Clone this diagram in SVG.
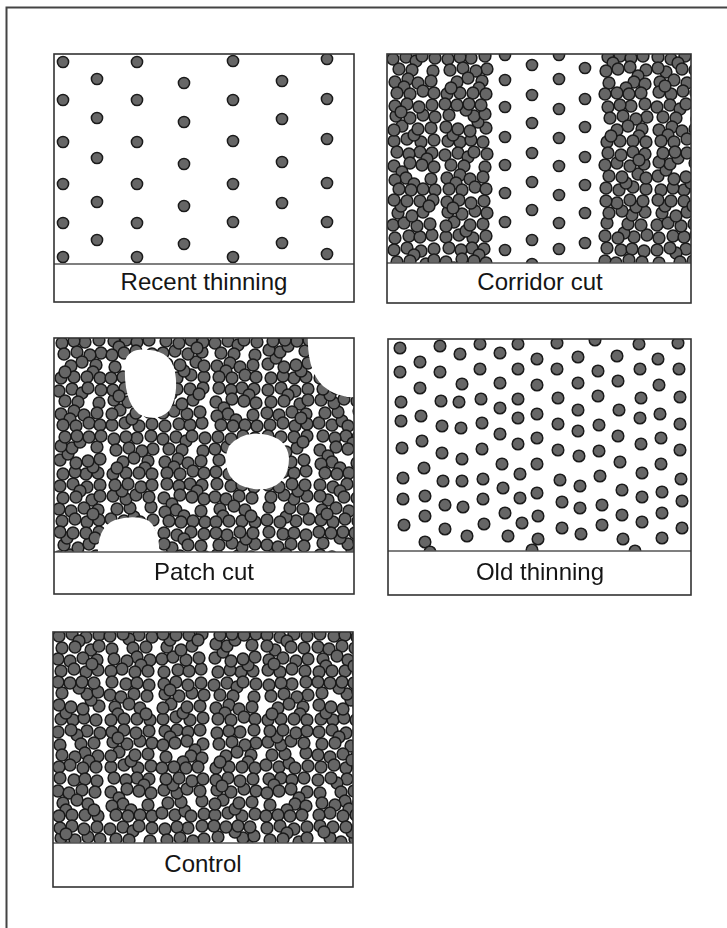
<svg xmlns="http://www.w3.org/2000/svg" xmlns:xlink="http://www.w3.org/1999/xlink" width="727" height="928" viewBox="0 0 727 928">
<style>
.frame{fill:none;stroke:#444;stroke-width:2}
.panel{fill:none;stroke:#333;stroke-width:1.6}
.div{stroke:#555;stroke-width:1.3}
.dots{fill:#666;stroke:#1a1a1a;stroke-width:1.5}
.lbl{font-family:"Liberation Sans",Arial,sans-serif;font-size:24px;fill:#151515;text-anchor:middle}
</style>
<defs>
<g id="A"><circle cx="6" cy="7" r="5.9"/><circle cx="19" cy="5" r="5.9"/><circle cx="33" cy="8" r="5.9"/><circle cx="46" cy="6" r="5.9"/><circle cx="26" cy="12" r="5.9"/><circle cx="9" cy="19" r="5.9"/><circle cx="22" cy="18" r="5.9"/><circle cx="38" cy="21" r="5.9"/><circle cx="46" cy="17" r="5.9"/><circle cx="5" cy="30" r="5.9"/><circle cx="17" cy="32" r="5.9"/><circle cx="30" cy="29" r="5.9"/><circle cx="44" cy="31" r="5.9"/><circle cx="8" cy="42" r="5.9"/><circle cx="21" cy="40" r="5.9"/><circle cx="33" cy="43" r="5.9"/><circle cx="45" cy="41" r="5.9"/><circle cx="39" cy="35" r="5.9"/></g>
<g id="B"><circle cx="7" cy="5" r="5.9"/><circle cx="21" cy="7" r="5.9"/><circle cx="32" cy="6" r="5.9"/><circle cx="44" cy="8" r="5.9"/><circle cx="5" cy="18" r="5.9"/><circle cx="16" cy="20" r="5.9"/><circle cx="29" cy="17" r="5.9"/><circle cx="42" cy="19" r="5.9"/><circle cx="24" cy="27" r="5.9"/><circle cx="10" cy="30" r="5.9"/><circle cx="35" cy="31" r="5.9"/><circle cx="13" cy="37" r="5.9"/><circle cx="6" cy="43" r="5.9"/><circle cx="19" cy="42" r="5.9"/><circle cx="32" cy="42" r="5.9"/><circle cx="45" cy="43" r="5.9"/><circle cx="41" cy="37" r="5.9"/></g>
<g id="C"><circle cx="5" cy="8" r="5.9"/><circle cx="18" cy="6" r="5.9"/><circle cx="28" cy="10" r="5.9"/><circle cx="34" cy="5" r="5.9"/><circle cx="47" cy="7" r="5.9"/><circle cx="11" cy="18" r="5.9"/><circle cx="24" cy="19" r="5.9"/><circle cx="45" cy="20" r="5.9"/><circle cx="7" cy="31" r="5.9"/><circle cx="20" cy="28" r="5.9"/><circle cx="30" cy="32" r="5.9"/><circle cx="43" cy="30" r="5.9"/><circle cx="16" cy="36" r="5.9"/><circle cx="9" cy="42" r="5.9"/><circle cx="22" cy="43" r="5.9"/><circle cx="35" cy="40" r="5.9"/><circle cx="46" cy="42" r="5.9"/></g>
<g id="D"><circle cx="8" cy="6" r="5.9"/><circle cx="20" cy="5" r="5.9"/><circle cx="31" cy="7" r="5.9"/><circle cx="43" cy="5" r="5.9"/><circle cx="13" cy="12" r="5.9"/><circle cx="6" cy="20" r="5.9"/><circle cx="18" cy="18" r="5.9"/><circle cx="30" cy="16" r="5.9"/><circle cx="46" cy="19" r="5.9"/><circle cx="38" cy="25" r="5.9"/><circle cx="9" cy="32" r="5.9"/><circle cx="34" cy="31" r="5.9"/><circle cx="45" cy="33" r="5.9"/><circle cx="26" cy="37" r="5.9"/><circle cx="5" cy="43" r="5.9"/><circle cx="17" cy="42" r="5.9"/><circle cx="29" cy="43" r="5.9"/><circle cx="41" cy="42" r="5.9"/></g>
<use id="Ah" href="#A" transform="matrix(-1 0 0 1 52 0)"/><use id="Av" href="#A" transform="matrix(1 0 0 -1 0 48)"/><use id="Ar" href="#A" transform="matrix(-1 0 0 -1 52 48)"/>
<use id="Bh" href="#B" transform="matrix(-1 0 0 1 52 0)"/><use id="Bv" href="#B" transform="matrix(1 0 0 -1 0 48)"/><use id="Br" href="#B" transform="matrix(-1 0 0 -1 52 48)"/>
<use id="Ch" href="#C" transform="matrix(-1 0 0 1 52 0)"/><use id="Cv" href="#C" transform="matrix(1 0 0 -1 0 48)"/><use id="Cr" href="#C" transform="matrix(-1 0 0 -1 52 48)"/>
<use id="Dh" href="#D" transform="matrix(-1 0 0 1 52 0)"/><use id="Dv" href="#D" transform="matrix(1 0 0 -1 0 48)"/><use id="Dr" href="#D" transform="matrix(-1 0 0 -1 52 48)"/>
<clipPath id="cp1"><rect x="54" y="54" width="300" height="210"/></clipPath>
<clipPath id="cp2"><rect x="387" y="54" width="304" height="209"/></clipPath>
<clipPath id="cp3"><rect x="54" y="338" width="300" height="214"/></clipPath>
<clipPath id="cp4"><rect x="388" y="339" width="303" height="212"/></clipPath>
<clipPath id="cp5"><rect x="53" y="632" width="300" height="211"/></clipPath>
<mask id="holes" maskUnits="userSpaceOnUse" x="0" y="0" width="727" height="928">
<rect x="0" y="0" width="727" height="928" fill="#fff"/>
<path fill="#000" d="M125 362Q128 347 150 350Q171 352 175 372Q179 395 169 411Q156 423 139 414Q123 401 125 362Z"/>
<path fill="#000" d="M308 330L360 330L360 397Q338 399 323 386Q306 370 308 330Z"/>
<path fill="#000" d="M229 446Q241 432 262 434Q287 437 289 458Q289 484 266 489Q240 491 230 476Q222 461 229 446Z"/>
<path fill="#000" d="M98 560Q96 527 115 520Q135 514 149 521Q161 531 159 560Z"/>
</mask>
</defs>
<rect x="0" y="0" width="727" height="928" fill="#fff"/>
<path class="frame" d="M6.5 928V7.5H727"/>

<g id="recent-thinning">
<g class="dots" clip-path="url(#cp1)">
<circle cx="63" cy="62" r="5.6"/><circle cx="63" cy="100" r="5.6"/><circle cx="63" cy="142" r="5.6"/><circle cx="63" cy="184" r="5.6"/><circle cx="63" cy="223" r="5.6"/><circle cx="63" cy="257" r="5.6"/>
<circle cx="97" cy="79" r="5.6"/><circle cx="97" cy="118" r="5.6"/><circle cx="97" cy="158" r="5.6"/><circle cx="97" cy="202" r="5.6"/><circle cx="97" cy="240" r="5.6"/>
<circle cx="137" cy="62" r="5.6"/><circle cx="137" cy="100" r="5.6"/><circle cx="137" cy="142" r="5.6"/><circle cx="137" cy="184" r="5.6"/><circle cx="137" cy="223" r="5.6"/><circle cx="137" cy="257" r="5.6"/>
<circle cx="184" cy="83" r="5.6"/><circle cx="184" cy="122" r="5.6"/><circle cx="184" cy="164" r="5.6"/><circle cx="184" cy="206" r="5.6"/><circle cx="184" cy="244" r="5.6"/>
<circle cx="233" cy="61" r="5.6"/><circle cx="233" cy="100" r="5.6"/><circle cx="233" cy="141" r="5.6"/><circle cx="233" cy="184" r="5.6"/><circle cx="233" cy="222" r="5.6"/><circle cx="233" cy="257" r="5.6"/>
<circle cx="282" cy="81" r="5.6"/><circle cx="282" cy="119" r="5.6"/><circle cx="282" cy="162" r="5.6"/><circle cx="282" cy="203" r="5.6"/><circle cx="282" cy="243" r="5.6"/>
<circle cx="327" cy="59" r="5.6"/><circle cx="327" cy="99" r="5.6"/><circle cx="327" cy="139" r="5.6"/><circle cx="327" cy="183" r="5.6"/><circle cx="327" cy="222" r="5.6"/><circle cx="327" cy="254" r="5.6"/>
</g>
<line class="div" x1="54" y1="264" x2="354" y2="264"/>
<rect class="panel" x="54" y="54" width="300" height="248"/>
<text class="lbl" x="204" y="290">Recent thinning</text>
</g>

<g id="corridor-cut">
<g class="dots" clip-path="url(#cp2)">
<use href="#C" x="388" y="51"/><use href="#Ar" x="388" y="99"/><use href="#Dh" x="388" y="147"/><use href="#Bv" x="388" y="195"/><use href="#A" x="388" y="243"/>
<use href="#Bh" x="440" y="51"/><use href="#Dv" x="440" y="99"/><use href="#C" x="440" y="147"/><use href="#Ar" x="440" y="195"/><use href="#Dh" x="440" y="243"/>
<use href="#D" x="600" y="51"/><use href="#Bh" x="600" y="99"/><use href="#Av" x="600" y="147"/><use href="#Cr" x="600" y="195"/><use href="#B" x="600" y="243"/>
<use href="#Ah" x="652" y="51"/><use href="#C" x="652" y="99"/><use href="#Dr" x="652" y="147"/><use href="#Bv" x="652" y="195"/><use href="#Ch" x="652" y="243"/>
<circle cx="505" cy="55" r="5.6"/><circle cx="505" cy="80" r="5.6"/><circle cx="505" cy="107" r="5.6"/><circle cx="505" cy="137" r="5.6"/><circle cx="505" cy="165" r="5.6"/><circle cx="505" cy="193" r="5.6"/><circle cx="505" cy="222" r="5.6"/><circle cx="505" cy="250" r="5.6"/>
<circle cx="532" cy="65" r="5.6"/><circle cx="532" cy="95" r="5.6"/><circle cx="532" cy="123" r="5.6"/><circle cx="532" cy="153" r="5.6"/><circle cx="532" cy="182" r="5.6"/><circle cx="532" cy="210" r="5.6"/><circle cx="532" cy="240" r="5.6"/><circle cx="532" cy="264" r="5.6"/>
<circle cx="559" cy="55" r="5.6"/><circle cx="559" cy="79" r="5.6"/><circle cx="559" cy="109" r="5.6"/><circle cx="559" cy="138" r="5.6"/><circle cx="559" cy="166" r="5.6"/><circle cx="559" cy="195" r="5.6"/><circle cx="559" cy="223" r="5.6"/><circle cx="559" cy="249" r="5.6"/>
<circle cx="585" cy="68" r="5.6"/><circle cx="585" cy="99" r="5.6"/><circle cx="585" cy="127" r="5.6"/><circle cx="585" cy="157" r="5.6"/><circle cx="585" cy="185" r="5.6"/><circle cx="585" cy="213" r="5.6"/><circle cx="585" cy="243" r="5.6"/>
</g>
<line class="div" x1="387" y1="263" x2="691" y2="263"/>
<rect class="panel" x="387" y="54" width="304" height="249"/>
<text class="lbl" x="540" y="290">Corridor cut</text>
</g>

<g id="patch-cut">
<g clip-path="url(#cp3)">
<g class="dots" mask="url(#holes)">
<use href="#Bh" x="54" y="335"/><use href="#D" x="106" y="335"/><use href="#Av" x="158" y="335"/><use href="#C" x="210" y="335"/><use href="#Dr" x="262" y="335"/><use href="#B" x="314" y="335"/>
<use href="#C" x="54" y="383"/><use href="#Ar" x="106" y="383"/><use href="#Bv" x="158" y="383"/><use href="#Dh" x="210" y="383"/><use href="#A" x="262" y="383"/><use href="#Cv" x="314" y="383"/>
<use href="#Dr" x="54" y="431"/><use href="#Bh" x="106" y="431"/><use href="#C" x="158" y="431"/><use href="#Av" x="210" y="431"/><use href="#Bv" x="262" y="431"/><use href="#Dh" x="314" y="431"/>
<use href="#A" x="54" y="479"/><use href="#Cv" x="106" y="479"/><use href="#Dh" x="158" y="479"/><use href="#B" x="210" y="479"/><use href="#Cr" x="262" y="479"/><use href="#Ah" x="314" y="479"/>
<use href="#Bv" x="54" y="527"/><use href="#D" x="106" y="527"/><use href="#Ah" x="158" y="527"/><use href="#Cr" x="210" y="527"/><use href="#B" x="262" y="527"/><use href="#Dv" x="314" y="527"/>
</g>
</g>
<line class="div" x1="54" y1="552" x2="354" y2="552"/>
<rect class="panel" x="54" y="338" width="300" height="256"/>
<text class="lbl" x="204" y="580">Patch cut</text>
</g>

<g id="old-thinning">
<g class="dots" clip-path="url(#cp4)">
<circle cx="400" cy="348" r="5.8"/><circle cx="440" cy="346" r="5.8"/><circle cx="460" cy="354" r="5.8"/><circle cx="480" cy="344" r="5.8"/><circle cx="500" cy="353" r="5.8"/><circle cx="518" cy="344" r="5.8"/><circle cx="537" cy="359" r="5.8"/>
<circle cx="420" cy="362" r="5.8"/><circle cx="400" cy="372" r="5.8"/><circle cx="440" cy="372" r="5.8"/><circle cx="480" cy="369" r="5.8"/><circle cx="518" cy="369" r="5.8"/>
<circle cx="420" cy="388" r="5.8"/><circle cx="462" cy="384" r="5.8"/><circle cx="500" cy="383" r="5.8"/><circle cx="537" cy="385" r="5.8"/>
<circle cx="401" cy="402" r="5.8"/><circle cx="441" cy="401" r="5.8"/><circle cx="459" cy="402" r="5.8"/><circle cx="481" cy="399" r="5.8"/><circle cx="500" cy="408" r="5.8"/><circle cx="518" cy="399" r="5.8"/>
<circle cx="401" cy="421" r="5.8"/><circle cx="421" cy="416" r="5.8"/><circle cx="442" cy="426" r="5.8"/><circle cx="461" cy="428" r="5.8"/><circle cx="482" cy="423" r="5.8"/><circle cx="518" cy="418" r="5.8"/><circle cx="537" cy="414" r="5.8"/>
<circle cx="500" cy="434" r="5.8"/>
<circle cx="402" cy="448" r="5.8"/><circle cx="422" cy="441" r="5.8"/><circle cx="442" cy="453" r="5.8"/><circle cx="462" cy="459" r="5.8"/><circle cx="482" cy="449" r="5.8"/><circle cx="518" cy="444" r="5.8"/><circle cx="537" cy="438" r="5.8"/>
<circle cx="424" cy="468" r="5.8"/><circle cx="502" cy="464" r="5.8"/><circle cx="537" cy="464" r="5.8"/>
<circle cx="403" cy="478" r="5.8"/><circle cx="443" cy="481" r="5.8"/><circle cx="462" cy="481" r="5.8"/><circle cx="483" cy="479" r="5.8"/><circle cx="520" cy="474" r="5.8"/><circle cx="503" cy="488" r="5.8"/>
<circle cx="403" cy="499" r="5.8"/><circle cx="425" cy="496" r="5.8"/><circle cx="445" cy="505" r="5.8"/><circle cx="463" cy="507" r="5.8"/><circle cx="483" cy="499" r="5.8"/><circle cx="520" cy="498" r="5.8"/><circle cx="537" cy="493" r="5.8"/>
<circle cx="505" cy="513" r="5.8"/><circle cx="425" cy="516" r="5.8"/><circle cx="404" cy="525" r="5.8"/><circle cx="522" cy="523" r="5.8"/><circle cx="484" cy="524" r="5.8"/><circle cx="445" cy="529" r="5.8"/><circle cx="467" cy="536" r="5.8"/><circle cx="508" cy="536" r="5.8"/><circle cx="538" cy="516" r="5.8"/><circle cx="538" cy="539" r="5.8"/>
<circle cx="425" cy="542" r="5.8"/><circle cx="430" cy="552" r="5.8"/><circle cx="532" cy="550" r="5.8"/>
<circle cx="557" cy="343" r="5.8"/><circle cx="595" cy="340" r="5.8"/><circle cx="639" cy="344" r="5.8"/><circle cx="678" cy="343" r="5.8"/>
<circle cx="578" cy="357" r="5.8"/><circle cx="617" cy="356" r="5.8"/><circle cx="658" cy="359" r="5.8"/>
<circle cx="557" cy="369" r="5.8"/><circle cx="598" cy="371" r="5.8"/><circle cx="640" cy="369" r="5.8"/><circle cx="679" cy="369" r="5.8"/>
<circle cx="578" cy="383" r="5.8"/><circle cx="618" cy="381" r="5.8"/><circle cx="659" cy="385" r="5.8"/>
<circle cx="558" cy="398" r="5.8"/><circle cx="598" cy="396" r="5.8"/><circle cx="641" cy="398" r="5.8"/><circle cx="680" cy="397" r="5.8"/>
<circle cx="578" cy="410" r="5.8"/><circle cx="619" cy="410" r="5.8"/><circle cx="640" cy="418" r="5.8"/><circle cx="660" cy="414" r="5.8"/>
<circle cx="558" cy="424" r="5.8"/><circle cx="578" cy="431" r="5.8"/><circle cx="599" cy="425" r="5.8"/><circle cx="680" cy="424" r="5.8"/>
<circle cx="618" cy="436" r="5.8"/><circle cx="641" cy="444" r="5.8"/><circle cx="661" cy="438" r="5.8"/>
<circle cx="558" cy="450" r="5.8"/><circle cx="579" cy="456" r="5.8"/><circle cx="599" cy="451" r="5.8"/><circle cx="680" cy="450" r="5.8"/>
<circle cx="620" cy="462" r="5.8"/><circle cx="661" cy="464" r="5.8"/><circle cx="642" cy="473" r="5.8"/>
<circle cx="560" cy="480" r="5.8"/><circle cx="580" cy="486" r="5.8"/><circle cx="600" cy="476" r="5.8"/><circle cx="681" cy="479" r="5.8"/>
<circle cx="622" cy="490" r="5.8"/><circle cx="642" cy="497" r="5.8"/><circle cx="662" cy="492" r="5.8"/>
<circle cx="562" cy="502" r="5.8"/><circle cx="580" cy="508" r="5.8"/><circle cx="602" cy="505" r="5.8"/><circle cx="682" cy="501" r="5.8"/>
<circle cx="622" cy="515" r="5.8"/><circle cx="642" cy="522" r="5.8"/><circle cx="662" cy="513" r="5.8"/>
<circle cx="562" cy="528" r="5.8"/><circle cx="581" cy="534" r="5.8"/><circle cx="602" cy="525" r="5.8"/><circle cx="682" cy="528" r="5.8"/>
<circle cx="623" cy="539" r="5.8"/><circle cx="662" cy="538" r="5.8"/>
<circle cx="635" cy="551" r="5.8"/>
</g>
<line class="div" x1="388" y1="551" x2="691" y2="551"/>
<rect class="panel" x="388" y="339" width="303" height="256"/>
<text class="lbl" x="540" y="580">Old thinning</text>
</g>

<g id="control">
<g class="dots" clip-path="url(#cp5)">
<use href="#A" x="53" y="629"/><use href="#Ch" x="105" y="629"/><use href="#Bv" x="157" y="629"/><use href="#Dr" x="209" y="629"/><use href="#Ah" x="261" y="629"/><use href="#B" x="313" y="629"/>
<use href="#Dv" x="53" y="677"/><use href="#B" x="105" y="677"/><use href="#Ar" x="157" y="677"/><use href="#C" x="209" y="677"/><use href="#Bh" x="261" y="677"/><use href="#Dv" x="313" y="677"/>
<use href="#Ch" x="53" y="725"/><use href="#Ar" x="105" y="725"/><use href="#D" x="157" y="725"/><use href="#Bh" x="209" y="725"/><use href="#Cv" x="261" y="725"/><use href="#A" x="313" y="725"/>
<use href="#B" x="53" y="773"/><use href="#Dh" x="105" y="773"/><use href="#Cv" x="157" y="773"/><use href="#Ar" x="209" y="773"/><use href="#D" x="261" y="773"/><use href="#Ch" x="313" y="773"/>
<use href="#Ar" x="53" y="821"/><use href="#C" x="105" y="821"/><use href="#Bh" x="157" y="821"/><use href="#Dv" x="209" y="821"/><use href="#A" x="261" y="821"/><use href="#Br" x="313" y="821"/>
</g>
<line class="div" x1="53" y1="843" x2="353" y2="843"/>
<rect class="panel" x="53" y="632" width="300" height="255"/>
<text class="lbl" x="203" y="872">Control</text>
</g>
</svg>
